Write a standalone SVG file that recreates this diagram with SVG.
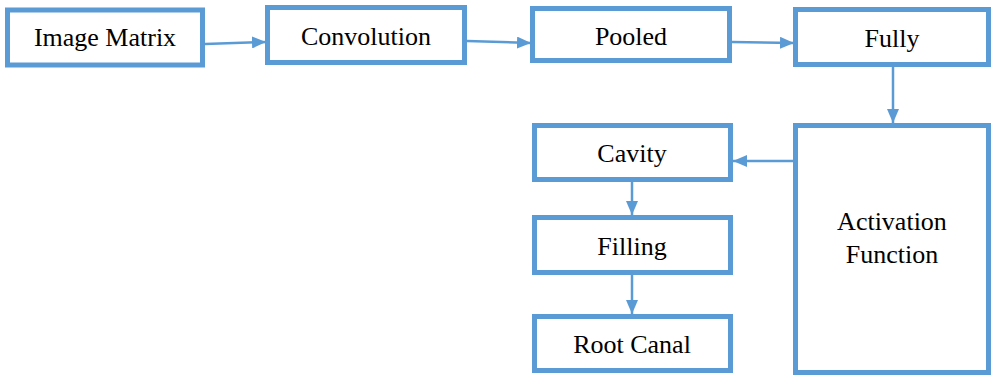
<svg xmlns="http://www.w3.org/2000/svg" width="992" height="375" viewBox="0 0 992 375">
<style>
.box{fill:#fff;stroke:#5B9BD5;stroke-width:5}
.lbl{font-family:"Liberation Serif","Times New Roman",serif;font-size:26px;fill:#000;text-anchor:middle}
.con{stroke:#5B9BD5;stroke-width:2.5;fill:none}
</style>
<defs>
<marker id="ah" markerUnits="userSpaceOnUse" markerWidth="14" markerHeight="12" refX="14" refY="6" orient="auto">
<path d="M0,0 L14,6 L0,12 Z" fill="#5B9BD5"/>
</marker>
</defs>
<rect width="992" height="375" fill="#fff"/>
<g id="connectors">
<line class="con" x1="205" y1="44" x2="266" y2="42" marker-end="url(#ah)"/>
<line class="con" x1="467" y1="41" x2="531" y2="43" marker-end="url(#ah)"/>
<line class="con" x1="732" y1="42" x2="794" y2="43" marker-end="url(#ah)"/>
<line class="con" x1="893" y1="67" x2="893" y2="123" marker-end="url(#ah)"/>
<line class="con" x1="793" y1="161" x2="733" y2="161" marker-end="url(#ah)"/>
<line class="con" x1="632" y1="182" x2="632" y2="215" marker-end="url(#ah)"/>
<line class="con" x1="632" y1="275" x2="632" y2="314" marker-end="url(#ah)"/>
</g>
<g id="image-matrix"><rect class="box" x="7.5" y="10" width="195" height="55"/><text class="lbl" x="105" y="46">Image Matrix</text></g>
<g id="convolution"><rect class="box" x="267.5" y="7.5" width="197" height="55"/><text class="lbl" x="366" y="45">Convolution</text></g>
<g id="pooled"><rect class="box" x="532.5" y="8.5" width="197" height="52"/><text class="lbl" x="631" y="45">Pooled</text></g>
<g id="fully"><rect class="box" x="795.5" y="9.5" width="193" height="55"/><text class="lbl" x="892" y="47">Fully</text></g>
<g id="activation"><rect class="box" x="795.5" y="125.5" width="193" height="247"/><text class="lbl" x="892" y="230">Activation</text><text class="lbl" x="892" y="263">Function</text></g>
<g id="cavity"><rect class="box" x="534.5" y="125.5" width="196" height="54"/><text class="lbl" x="632" y="162">Cavity</text></g>
<g id="filling"><rect class="box" x="534.5" y="217.5" width="196" height="55"/><text class="lbl" x="632" y="255">Filling</text></g>
<g id="root-canal"><rect class="box" x="534.5" y="316.5" width="196" height="54"/><text class="lbl" x="632" y="353">Root Canal</text></g>
</svg>
